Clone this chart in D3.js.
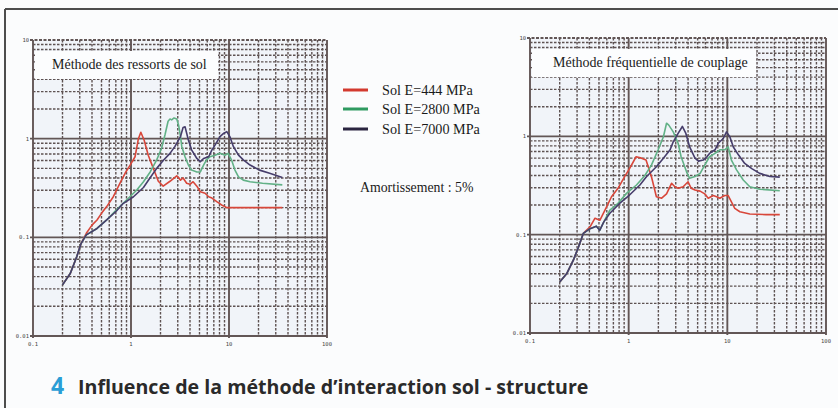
<!DOCTYPE html>
<html><head><meta charset="utf-8">
<script src="https://cdn.jsdelivr.net/npm/d3@7"></script>
<style>
html,body{margin:0;padding:0;background:#fbfcfd;}
svg{display:block;}
</style></head>
<body>
<svg id="chart" width="838" height="408"></svg>
<script>
// ---------- data ----------
const xTickValues = [0.1, 1, 10, 100];
const xTickLabels = ["0.1", "1", "10", "100"];
const yTickValues = [0.01, 0.1, 1, 10];
const yTickLabels = ["0.01", "0.1", "1", "10"];
const seriesNames = ["Sol E=444 MPa", "Sol E=2800 MPa", "Sol E=7000 MPa"];
const panelTitles = ["Méthode des ressorts de sol", "Méthode fréquentielle de couplage"];
const dampingNote = "Amortissement : 5%";
const captionNumber = "4";
const captionText = "Influence de la méthode d\u2019interaction sol - structure";

// [frequency (Hz), spectral value]
const springE444 = [[0.2,0.033],[0.24,0.043],[0.28,0.064],[0.31,0.087],[0.35,0.11],[0.40,0.133],[0.45,0.15],[0.50,0.175],[0.565,0.205],[0.66,0.258],[0.77,0.353],[0.87,0.446],[0.98,0.54],[1.1,0.656],[1.19,1.0],[1.26,1.16],[1.36,0.97],[1.5,0.68],[1.69,0.50],[1.9,0.37],[2.13,0.33],[2.5,0.37],[2.93,0.42],[3.2,0.38],[3.4,0.40],[3.7,0.353],[4.0,0.345],[4.3,0.366],[4.7,0.33],[5.1,0.29],[5.7,0.28],[6.2,0.258],[6.7,0.25],[7.5,0.23],[8.4,0.213],[9.5,0.20],[16,0.20],[35,0.20]];
const springE2800 = [[0.2,0.033],[0.24,0.043],[0.28,0.064],[0.31,0.087],[0.35,0.106],[0.45,0.123],[0.565,0.15],[0.71,0.19],[0.9,0.239],[1.14,0.30],[1.34,0.366],[1.57,0.46],[1.83,0.61],[2.05,0.80],[2.22,1.09],[2.39,1.50],[2.5,1.58],[2.6,1.55],[2.75,1.62],[2.93,1.58],[3.06,1.37],[3.2,1.05],[3.3,0.83],[3.56,0.656],[3.85,0.54],[4.15,0.48],[4.7,0.46],[5.1,0.46],[5.5,0.54],[5.9,0.61],[6.4,0.656],[7.2,0.68],[8.1,0.71],[9.1,0.68],[9.8,0.71],[10.6,0.61],[11.5,0.48],[12.5,0.41],[14,0.38],[16.4,0.366],[22,0.353],[35,0.34]];
const springE7000 = [[0.2,0.033],[0.24,0.043],[0.28,0.064],[0.31,0.087],[0.35,0.106],[0.45,0.123],[0.565,0.15],[0.71,0.185],[0.83,0.22],[1.06,0.258],[1.34,0.32],[1.56,0.40],[1.83,0.50],[2.13,0.60],[2.5,0.71],[2.8,0.83],[3.2,1.05],[3.4,1.30],[3.56,1.32],[3.85,0.97],[4.15,0.77],[4.7,0.63],[5.1,0.585],[5.5,0.63],[6.2,0.656],[6.7,0.77],[7.2,0.86],[8.1,1.05],[8.8,1.13],[9.5,1.18],[10.2,1.05],[11.1,0.83],[12.5,0.68],[14,0.61],[16.4,0.54],[20.5,0.48],[26,0.446],[35,0.405]];

const couplingE444 = [[0.2,0.033],[0.235,0.040],[0.275,0.055],[0.31,0.075],[0.347,0.103],[0.406,0.12],[0.456,0.147],[0.51,0.14],[0.575,0.178],[0.67,0.243],[0.78,0.296],[0.91,0.39],[1.02,0.47],[1.19,0.62],[1.35,0.60],[1.5,0.574],[1.7,0.39],[1.91,0.243],[2.16,0.235],[2.42,0.26],[2.72,0.333],[2.94,0.307],[3.17,0.296],[3.57,0.307],[4.0,0.345],[4.3,0.296],[4.7,0.284],[5.3,0.277],[5.9,0.26],[6.4,0.235],[7.2,0.25],[7.8,0.243],[8.4,0.235],[9.4,0.25],[10.2,0.25],[11.0,0.216],[11.9,0.185],[13.4,0.171],[16.9,0.162],[24.7,0.16],[34,0.16]];
const couplingE2800 = [[0.2,0.033],[0.235,0.040],[0.275,0.055],[0.31,0.075],[0.347,0.103],[0.406,0.115],[0.47,0.122],[0.51,0.111],[0.56,0.135],[0.645,0.178],[0.78,0.208],[0.95,0.263],[1.2,0.32],[1.46,0.40],[1.7,0.51],[1.99,0.73],[2.25,0.99],[2.42,1.36],[2.55,1.30],[2.83,1.11],[3.17,0.85],[3.4,0.62],[3.86,0.436],[4.15,0.374],[4.7,0.39],[5.3,0.42],[5.9,0.51],[6.6,0.62],[7.5,0.67],[8.4,0.73],[9.4,0.73],[10.2,0.78],[11.0,0.574],[12.4,0.456],[14.5,0.36],[16.9,0.307],[21.3,0.29],[34,0.28]];
const couplingE7000 = [[0.2,0.033],[0.235,0.040],[0.275,0.055],[0.31,0.075],[0.347,0.103],[0.406,0.115],[0.47,0.122],[0.51,0.111],[0.56,0.135],[0.645,0.165],[0.81,0.208],[1.02,0.253],[1.3,0.32],[1.52,0.39],[1.91,0.49],[2.25,0.60],[2.63,0.73],[2.83,0.88],[3.17,1.07],[3.5,1.26],[3.8,1.07],[4.15,0.78],[4.7,0.60],[5.1,0.56],[5.7,0.574],[6.2,0.62],[6.6,0.67],[7.5,0.73],[8.1,0.85],[9.1,0.95],[9.8,1.11],[10.6,0.99],[11.5,0.78],[13,0.645],[15,0.53],[17.7,0.47],[21.3,0.42],[27,0.39],[34,0.385]];

const seriesColors = ["#d8473b", "#62b187", "#463d6b"];
const legendColors = ["#d33a2f", "#2f9a60", "#2a2540"];

// ---------- drawing ----------
const svg = d3.select("#chart");

// frame
svg.append("line").attr("x1",5).attr("x2",838).attr("y1",9).attr("y2",9).attr("stroke","#4d4d4d").attr("stroke-width",2);
svg.append("line").attr("x1",5).attr("x2",5).attr("y1",9).attr("y2",408).attr("stroke","#4d4d4d").attr("stroke-width",2);

const panels = [
  {x0:33, x1:327, y0:40, y1:336, title:panelTitles[0], series:[springE444, springE2800, springE7000], boxW:183, textDx:19},
  {x0:530, x1:826, y0:38, y1:333, title:panelTitles[1], series:[couplingE444, couplingE2800, couplingE7000], boxW:224, textDx:23}
];

const gridColor = "#5e5252";

panels.forEach(p => {
  const x = d3.scaleLog().domain([0.1, 100]).range([p.x0, p.x1]);
  const y = d3.scaleLog().domain([0.01, 10]).range([p.y1, p.y0]);
  const g = svg.append("g");

  g.append("rect").attr("x",p.x0).attr("y",p.y0).attr("width",p.x1-p.x0).attr("height",p.y1-p.y0).attr("fill","#f1f4f9");

  const minorX = [], minorY = [];
  [0.1,1,10].forEach(d => { for (let k=2;k<=9;k++) minorX.push(d*k); });
  [0.01,0.1,1].forEach(d => { for (let k=2;k<=9;k++) minorY.push(d*k); });

  g.selectAll(".mx").data(minorX).join("line")
    .attr("x1",d=>x(d)).attr("x2",d=>x(d)).attr("y1",p.y0).attr("y2",p.y1)
    .attr("stroke",gridColor).attr("stroke-width",1.4).attr("stroke-dasharray","2.5,1.5");
  g.selectAll(".my").data(minorY).join("line")
    .attr("x1",p.x0).attr("x2",p.x1).attr("y1",d=>y(d)).attr("y2",d=>y(d))
    .attr("stroke",gridColor).attr("stroke-width",1.4).attr("stroke-dasharray","2.5,1.5");

  g.selectAll(".Mx").data(xTickValues).join("line")
    .attr("x1",d=>x(d)).attr("x2",d=>x(d)).attr("y1",p.y0).attr("y2",p.y1+2)
    .attr("stroke","#625656").attr("stroke-width",1.9);
  g.selectAll(".My").data(yTickValues).join("line")
    .attr("x1",p.x0-3).attr("x2",p.x1).attr("y1",d=>y(d)).attr("y2",d=>y(d))
    .attr("stroke","#625656").attr("stroke-width",1.9)
    .attr("stroke-dasharray",d=>d===10?"3,1.5":null);

  // title box
  const tb = g.append("g");
  tb.append("rect").attr("x",p.x0+2).attr("y",p.y0+11).attr("width",p.boxW).attr("height",28).attr("fill","#fcfdfe");
  tb.append("text").attr("x",p.x0+p.textDx).attr("y",p.y0+29)
    .attr("font-family","'Liberation Serif', serif").attr("font-size",14).attr("fill","#1a1a1a").text(p.title);

  // tick labels
  g.selectAll(".xl").data(xTickValues).join("text")
    .attr("x",d=>x(d)).attr("y",p.y1+10).attr("text-anchor","middle")
    .attr("font-family","'DejaVu Sans Mono', monospace").attr("font-size",5.5).attr("fill","#444")
    .text((d,i)=>xTickLabels[i]);
  g.selectAll(".yl").data(yTickValues).join("text")
    .attr("x",p.x0-4).attr("y",d=>y(d)+2).attr("text-anchor","end")
    .attr("font-family","'DejaVu Sans Mono', monospace").attr("font-size",5.5).attr("fill","#444")
    .text((d,i)=>yTickLabels[i]);

  // curves
  const line = d3.line().x(d=>x(d[0])).y(d=>y(d[1]));
  p.series.forEach((s,i) => {
    g.append("path").datum(s).attr("d",line).attr("fill","none")
      .attr("stroke",seriesColors[i]).attr("stroke-width",1.6).attr("stroke-linejoin","round");
  });
});

// legend
const legendY = [90, 109, 129];
const lg = svg.append("g");
seriesNames.forEach((n,i) => {
  lg.append("line").attr("x1",343).attr("x2",368).attr("y1",legendY[i]).attr("y2",legendY[i])
    .attr("stroke",legendColors[i]).attr("stroke-width",3);
  lg.append("text").attr("x",382).attr("y",legendY[i]+4.5)
    .attr("font-family","'Liberation Serif', serif").attr("font-size",14.2).attr("fill","#1a1a1a").text(n);
});
svg.append("text").attr("x",360).attr("y",192)
  .attr("font-family","'Liberation Serif', serif").attr("font-size",13.8).attr("fill","#1a1a1a").text(dampingNote);

// caption
svg.append("text").attr("x",51).attr("y",394)
  .attr("font-family","'Open Sans', Lato, sans-serif").attr("font-weight","bold").attr("font-size",23).attr("fill","#2a9ed6").text(captionNumber);
const cap = svg.append("text").attr("x",78).attr("y",394)
  .attr("font-family","'Open Sans', Lato, sans-serif").attr("font-weight","bold").attr("font-size",19).attr("fill","#2a2a2a").text(captionText);
const capW = cap.node().getComputedTextLength();
if (capW > 0) cap.attr("font-size", Math.min(21, Math.max(16, 19 * 511 / capW)));
</script>
</body></html>
